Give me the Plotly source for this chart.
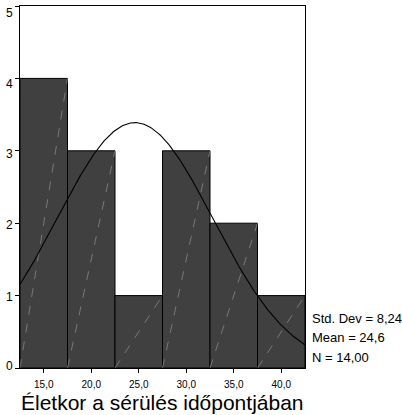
import numpy as np
import plotly.graph_objects as go

bin_centers = [15.0, 20.0, 25.0, 30.0, 35.0, 40.0]
counts = [4, 3, 1, 3, 2, 1]
bin_width = 5.0
tick_vals = [15, 20, 25, 30, 35, 40]
tick_text = ["15,0", "20,0", "25,0", "30,0", "35,0", "40,0"]
y_ticks = [0, 1, 2, 3, 4, 5]
y_tick_text = ["0", "1", "2", "3", "4", "5"]
std_dev = 8.24
mean = 24.6
n = 14
stats_text = ["Std. Dev = 8,24", "Mean = 24,6", "N = 14,00"]
x_title = "Életkor a sérülés időpontjában"

x_lo = bin_centers[0] - bin_width / 2
x_hi = bin_centers[-1] + bin_width / 2

fig = go.Figure()
fig.add_trace(go.Bar(
    x=bin_centers, y=counts, width=bin_width,
    marker=dict(color="#404040", line=dict(color="black", width=1)),
    hoverinfo="skip",
))

# light diagonal artefact lines inside each bar (bottom-left to top-right)
for c, h in zip(bin_centers, counts):
    fig.add_trace(go.Scatter(
        x=[c - bin_width / 2, c + bin_width / 2], y=[0, h], mode="lines",
        line=dict(color="#909090", width=0.7, dash="dash"), hoverinfo="skip",
    ))

# fitted normal curve from the stated statistics
xs = np.linspace(x_lo, x_hi, 300)
ys = n * bin_width / (std_dev * np.sqrt(2 * np.pi)) * np.exp(-(xs - mean) ** 2 / (2 * std_dev ** 2))
fig.add_trace(go.Scatter(x=xs, y=ys, mode="lines", line=dict(color="black", width=1.1), hoverinfo="skip"))

# y tick labels (SPSS draws them slightly below their ticks near the top)
label_drop = [-2, 1, 2, 3, 6, 7]
for v, t, d in zip(y_ticks, y_tick_text, label_drop):
    fig.add_annotation(
        text=t, xref="paper", yref="y", x=0, y=v,
        xanchor="right", yanchor="middle", xshift=-5, yshift=-d, showarrow=False,
        font=dict(size=12, color="black"),
    )

for t, yy in zip(stats_text, [0.1367, 0.0843, 0.029]):
    fig.add_annotation(
        text=t, xref="paper", yref="paper", x=1.0, y=yy,
        xanchor="left", yanchor="middle", xshift=5, showarrow=False,
        font=dict(size=13, color="black"),
    )

fig.add_annotation(
    text=x_title, xref="paper", yref="paper", x=0.5, y=0,
    xanchor="center", yanchor="middle", yshift=-34, showarrow=False,
    font=dict(size=21, color="black"),
)

fig.update_layout(
    width=402, height=415,
    margin=dict(l=20, r=97, t=6, b=47),
    paper_bgcolor="white", plot_bgcolor="white",
    showlegend=False, bargap=0,
    font=dict(family="Liberation Sans, Arial, sans-serif", size=11, color="black"),
    xaxis=dict(
        range=[x_lo, x_hi], tickvals=tick_vals, ticktext=tick_text,
        ticks="outside", ticklen=4, tickcolor="black", tickfont=dict(size=10),
        ticklabelstandoff=3,
        showline=True, linecolor="black", linewidth=1, mirror=True,
        showgrid=False, zeroline=False, automargin=False, ticklabeloverflow="allow",
    ),
    yaxis=dict(
        range=[0, 5], tickvals=y_ticks, ticks="outside", ticklen=4, tickcolor="black",
        showticklabels=False,
        showline=True, linecolor="black", linewidth=1, mirror=True,
        showgrid=False, zeroline=False, automargin=False,
    ),
)

fig.write_html("out.html", config={"displayModeBar": False, "staticPlot": True})
with open("out.html", "r", encoding="utf-8") as f:
    html = f.read()
html = html.replace("<body>", '<body style="margin:0;padding:0;">', 1)
with open("out.html", "w", encoding="utf-8") as f:
    f.write(html)
